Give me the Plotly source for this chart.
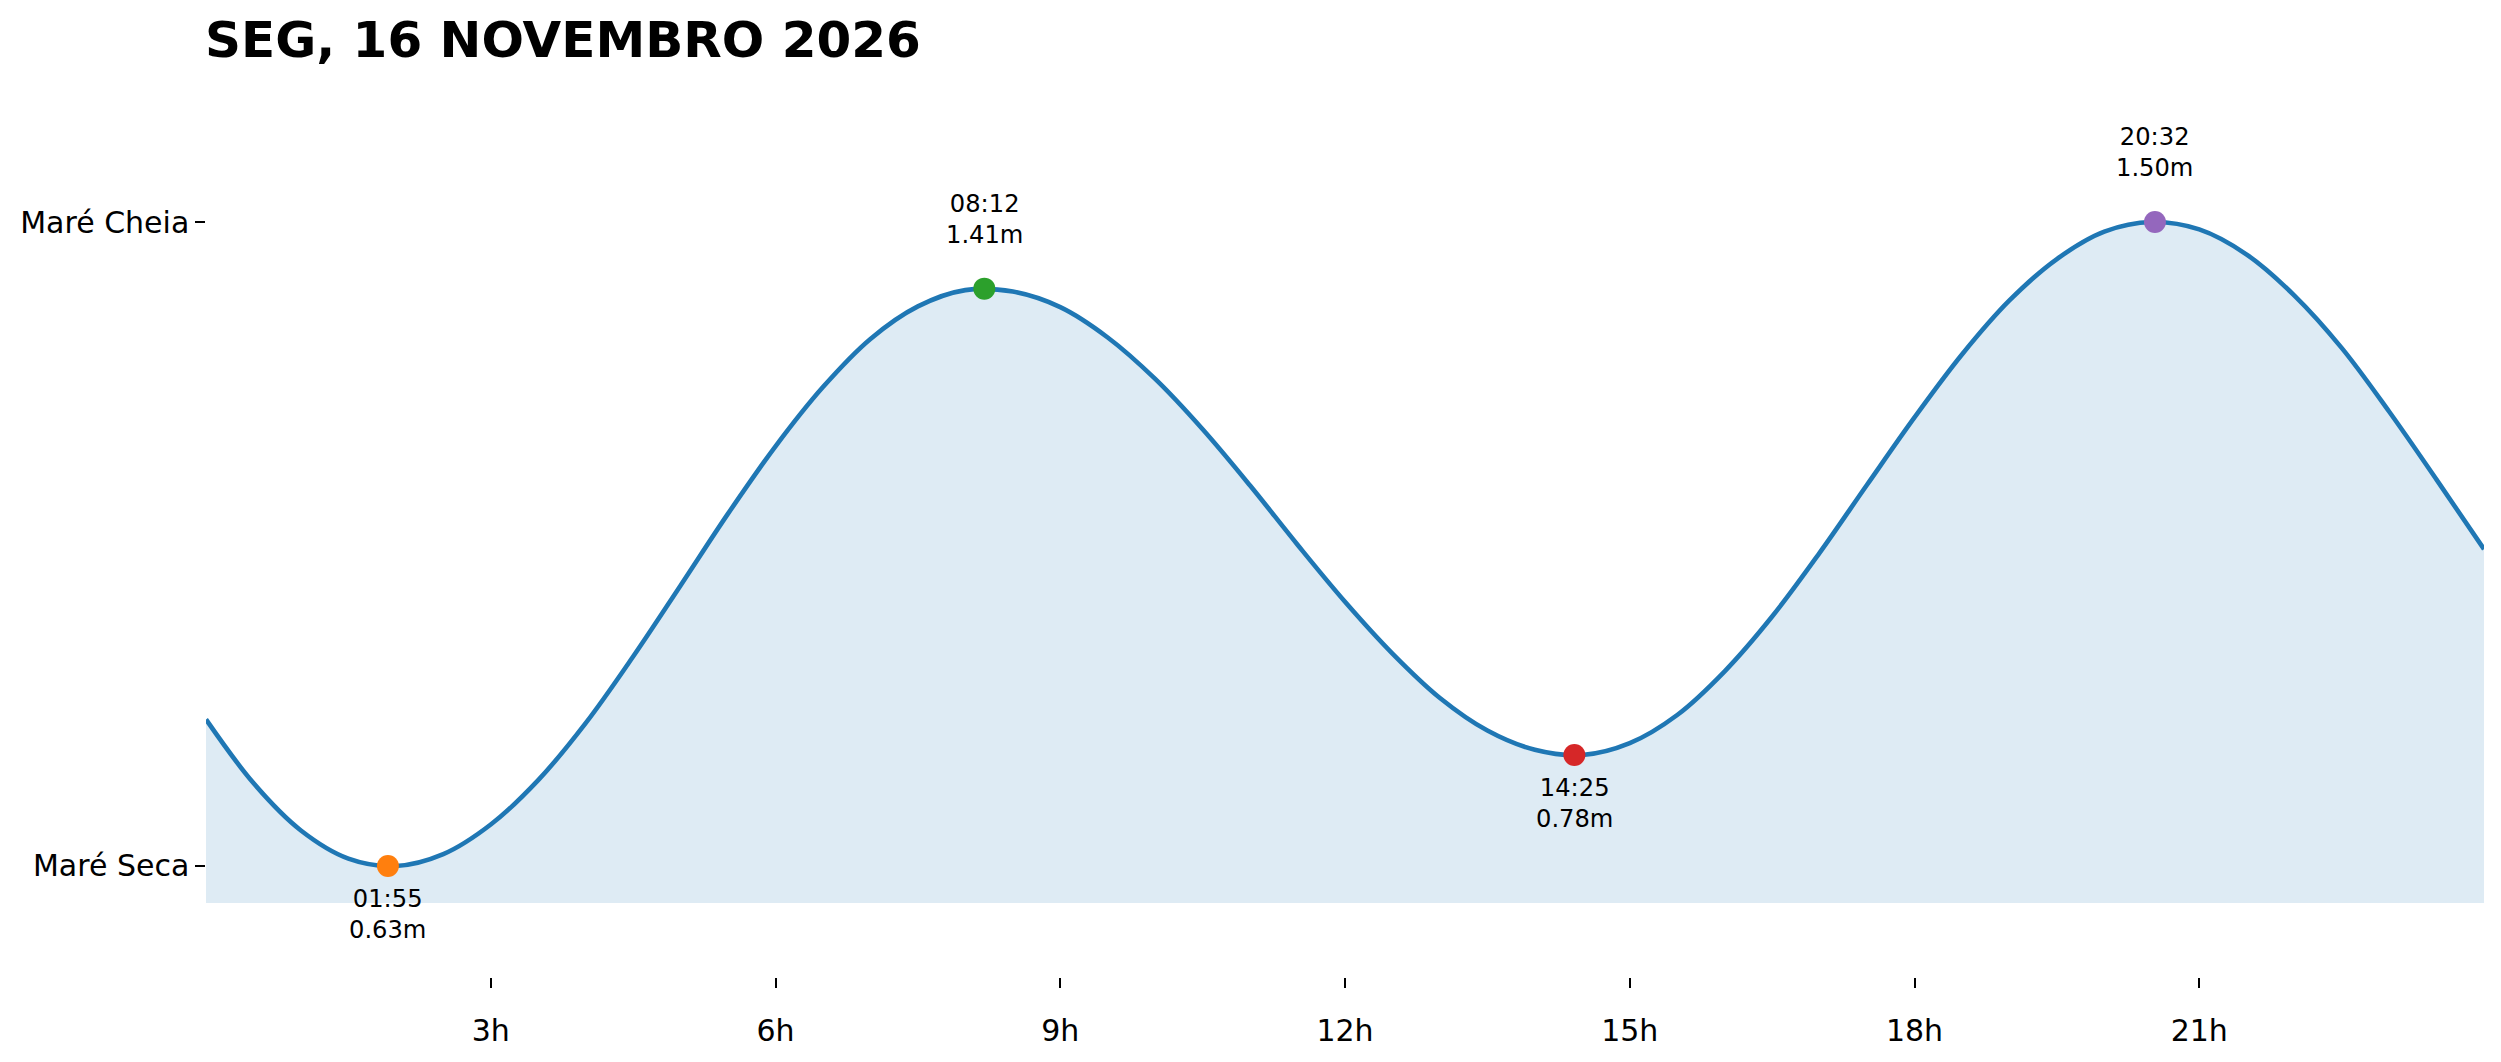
import plotly.graph_objects as go

# ---- data ----
title_text = "SEG, 16 NOVEMBRO 2026"

curve_hours = [0, 0.5, 1, 1.5, 2, 2.5, 3, 3.5, 4, 4.5, 5, 5.5, 6, 6.5, 7, 7.5, 8,
               8.5, 9, 9.5, 10, 10.5, 11, 11.5, 12, 12.5, 13, 13.5, 14, 14.5,
               15, 15.5, 16, 16.5, 17, 17.5, 18, 18.5, 19, 19.5, 20, 20.5,
               21, 21.5, 22, 22.5, 23, 23.5, 24]
curve_height = [0.828, 0.742, 0.678, 0.640, 0.630, 0.646, 0.686, 0.746, 0.823, 0.913,
                1.009, 1.106, 1.197, 1.277, 1.342, 1.386, 1.408,
                1.406, 1.385, 1.344, 1.288, 1.220, 1.144, 1.064, 0.987, 0.917, 0.857,
                0.813, 0.787, 0.780,
                0.796, 0.834, 0.893, 0.967, 1.053, 1.145, 1.236, 1.321, 1.394, 1.450,
                1.487, 1.500,
                1.490, 1.456, 1.401, 1.330, 1.244, 1.152, 1.058]

extreme_times = ["01:55", "08:12", "14:25", "20:32"]
extreme_heights = [0.63, 1.41, 0.78, 1.50]
extreme_is_high = [False, True, False, True]
extreme_colors = ["#ff7f0e", "#2ca02c", "#d62728", "#9467bd"]

fill_base = 0.58
y_range = [0.48, 1.65]
x_range = [0, 24]

x_tick_vals = [3, 6, 9, 12, 15, 18, 21]
x_tick_text = ["3h", "6h", "9h", "12h", "15h", "18h", "21h"]
y_tick_vals = [0.63, 1.50]
y_tick_text = ["Maré Seca", "Maré Cheia"]

FONT = "DejaVu Sans"

extreme_hours = [int(s[:2]) + int(s[3:]) / 60 for s in extreme_times]

fig = go.Figure()

# baseline for fill
fig.add_trace(go.Scatter(
    x=curve_hours, y=[fill_base] * len(curve_hours),
    mode="lines", line=dict(width=0, color="rgba(0,0,0,0)"),
    hoverinfo="skip", showlegend=False,
))
# tide curve
fig.add_trace(go.Scatter(
    x=curve_hours, y=curve_height,
    mode="lines", line=dict(color="#1f77b4", width=4.6, shape="spline", smoothing=1.0),
    fill="tonexty", fillcolor="rgba(31,119,180,0.15)",
    showlegend=False,
))
# extreme markers
for h, v, c in zip(extreme_hours, extreme_heights, extreme_colors):
    fig.add_trace(go.Scatter(
        x=[h], y=[v], mode="markers",
        marker=dict(color=c, size=22, line=dict(width=0)),
        showlegend=False,
    ))

annotations = []
for h, v, t, hi in zip(extreme_hours, extreme_heights, extreme_times, extreme_is_high):
    annotations.append(dict(
        x=h, y=v, xref="x", yref="y",
        text=f"{t}<br>{v:.2f}m", showarrow=False,
        font=dict(family=FONT, size=24.2, color="black"),
        xanchor="center",
        yanchor="bottom" if hi else "top",
        yshift=38 if hi else -17,
        align="center",
    ))
annotations.append(dict(
    x=0, y=1, xref="paper", yref="paper", xanchor="left", yanchor="bottom",
    xshift=-3, yshift=40,
    text=f"<b>{title_text}</b>", showarrow=False,
    font=dict(family=FONT, size=50, color="black"),
))

fig.update_layout(
    width=2493, height=1054,
    margin=dict(l=196, r=17, t=103, b=85),
    paper_bgcolor="white", plot_bgcolor="white",
    font=dict(family=FONT, size=30, color="black"),
    annotations=annotations,
    showlegend=False,
)
fig.update_xaxes(
    range=x_range, tickvals=x_tick_vals, ticktext=x_tick_text,
    ticks="outside", ticklen=9.7, tickwidth=2.2, tickcolor="black",
    showline=False, showgrid=False, zeroline=False,
    ticklabelstandoff=17,
    tickfont=dict(family=FONT, size=30, color="black"),
)
fig.update_yaxes(
    range=y_range, tickvals=y_tick_vals, ticktext=y_tick_text,
    ticks="outside", ticklen=9.7, tickwidth=2.2, tickcolor="black",
    showline=False, showgrid=False, zeroline=False,
    tickfont=dict(family=FONT, size=30, color="black"),
)

fig.write_html("out.html")
